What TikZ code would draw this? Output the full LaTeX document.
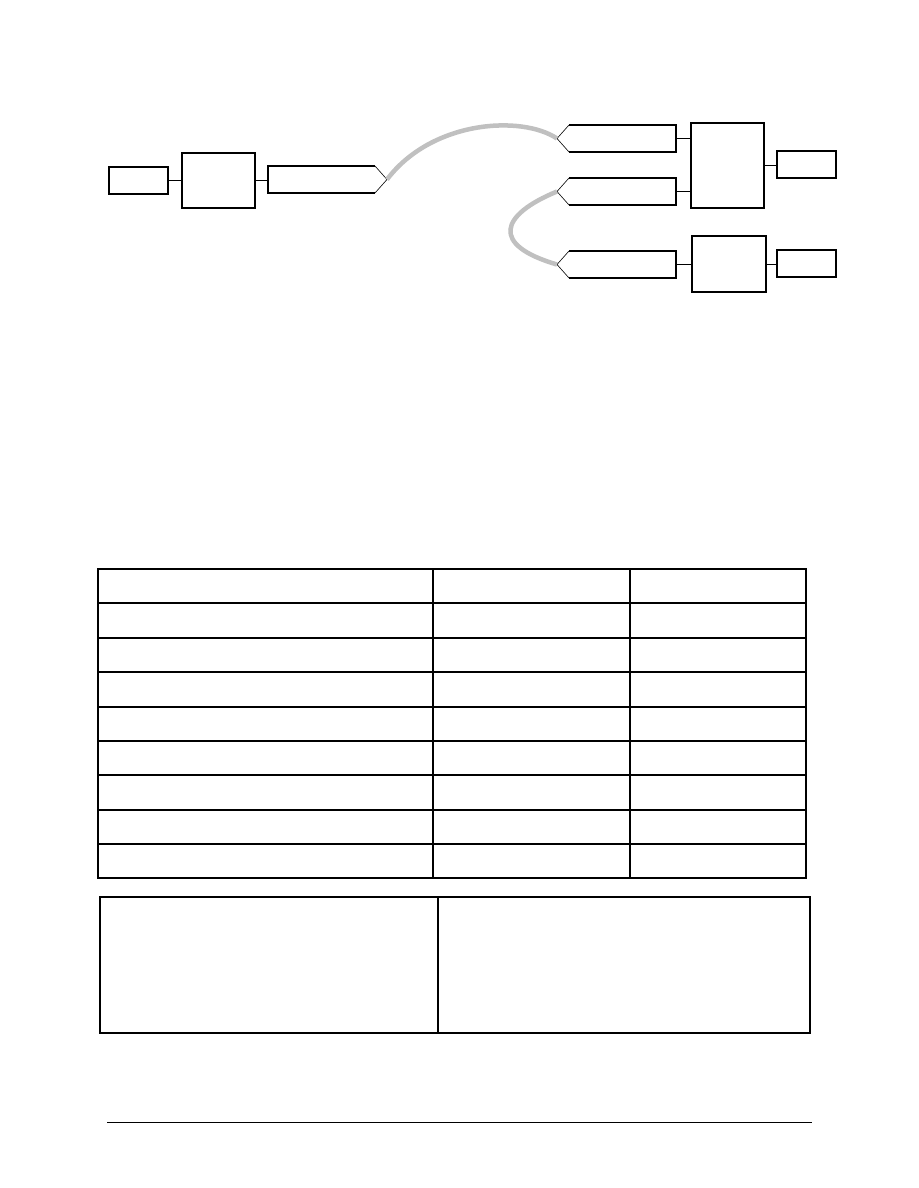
\documentclass[tikz,border=0pt]{standalone}
\begin{document}
\begin{tikzpicture}[x=1pt,y=-1pt,
  box/.style={draw=black,line width=1.1pt,rectangle,inner sep=0pt,outer sep=0pt,anchor=north west},
  plug/.style={draw=none,rectangle,inner sep=0pt,outer sep=0pt,anchor=north west},
  plugline/.style={line width=1.1pt},
  chev/.style={line width=0.6pt},
  wire/.style={line width=1pt},
  cable/.style={line width=4.5pt,color={rgb,255:red,192;green,192;blue,192}},
  thinrule/.style={line width=1.1pt},
  thickrule/.style={line width=2.2pt}]
\useasboundingbox[fill=white] (0,0) rectangle (918,1188);
% boxes
\node[box,minimum width=59pt,minimum height=27pt] (a) at (109,167) {};
\node[box,minimum width=73pt,minimum height=55pt] (b) at (182,153) {};
\node[plug,minimum width=107pt,minimum height=27pt] (c) at (268,166) {};
\node[plug,minimum width=107pt,minimum height=27pt] (c1) at (569,125) {};
\node[plug,minimum width=107pt,minimum height=27pt] (c2) at (569,178) {};
\node[plug,minimum width=107pt,minimum height=27pt] (c3) at (569,251) {};
\node[box,minimum width=73pt,minimum height=85pt] (d) at (691,123) {};
\node[box,minimum width=59pt,minimum height=27pt] (e) at (777,151) {};
\node[box,minimum width=74pt,minimum height=56pt] (f) at (692,236) {};
\node[box,minimum width=59pt,minimum height=27pt] (g) at (777,250) {};
% plug outlines
\draw[plugline] (c.north east) -- (c.north west) -- (c.south west) -- (c.south east);
\draw[chev] (c.north east) -- ([xshift=12pt]c.east) coordinate (ctip) -- (c.south east);
\foreach \p in {c1,c2,c3}{
  \draw[plugline] (\p.north west) -- (\p.north east) -- (\p.south east) -- (\p.south west);
  \draw[chev] (\p.north west) -- ([xshift=-12pt]\p.west) coordinate (\p tip) -- (\p.south west);
}
% wires
\draw[wire] (a.east) -- (b.west);
\draw[wire] (b.east) -- (b.east -| c.west);
\draw[wire] (c1.east) -- (c1.east -| d.west);
\draw[wire] (c2.east) -- (c2.east -| d.west);
\draw[wire] (d.east) -- (d.east -| e.west);
\draw[wire] (c3.east) -- (c3.east -| f.west);
\draw[wire] (f.east) -- (f.east -| g.west);
% cables
\draw[cable] (ctip) .. controls (432,120) and (522,115) .. (c1tip);
\draw[cable] (c2tip) .. controls (500,215) and (490,245) .. (c3tip);
% table
\draw[thinrule] (98,569) rectangle (806,878);
\foreach \y in {603,672,741,775,844}{\draw[thinrule] (98,\y) -- (806,\y);}
\foreach \y in {638,707,810,878}{\draw[thickrule] (98,\y) -- (806,\y);}
\draw[line width=1.8pt] (433,569) -- (433,878);
\draw[thinrule] (630,569) -- (630,878);
% bottom box
\draw[line width=2.2pt] (100,897) rectangle (810,1033);
\draw[line width=1.3pt] (438,897) -- (438,1033);
% footer rule
\draw[line width=1pt] (107,1122) -- (812,1122);
\end{tikzpicture}
\end{document}
